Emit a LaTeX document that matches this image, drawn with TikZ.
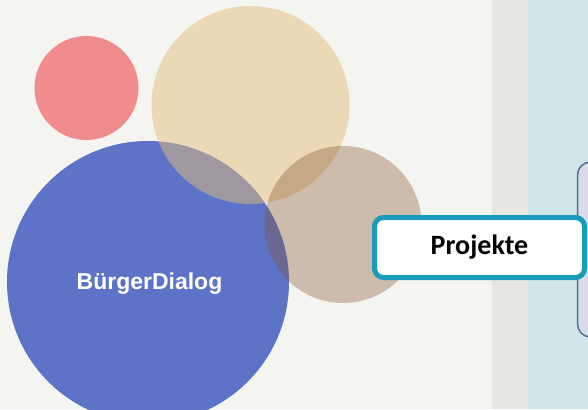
\documentclass[tikz,border=0pt]{standalone}
\usepackage{fontspec}
\setmainfont{Carlito}
\newfontfamily\dialogfont{Liberation Sans}
\definecolor{paper}{RGB}{244,244,240}
\definecolor{band}{RGB}{232,230,224}
\definecolor{lagoon}{RGB}{207,229,232}
\definecolor{rosa}{RGB}{240,140,142}
\definecolor{sand}{RGB}{228,190,124}
\definecolor{royal}{RGB}{92,115,200}
\definecolor{umber}{RGB}{133,81,46}
\definecolor{teal}{RGB}{26,155,185}
\definecolor{lilac}{RGB}{215,220,232}
\definecolor{slate}{RGB}{85,110,150}
\begin{document}
\begin{tikzpicture}[x=1pt, y=-1pt,
        bubble/.style={circle, inner sep=0pt},
        projbox/.style={draw=teal, line width=5pt, fill=white, rounded corners=9pt, inner sep=0pt}]
        \useasboundingbox (0, 0) rectangle (588, 409);
        \clip (0, 0) rectangle (588, 409);

        % background bands
        \fill[paper] (0, 0) rectangle (492, 409);
        \fill[band] (492, 0) rectangle (528, 409);
        \fill[lagoon] (528, 0) rectangle (588, 409);

        % bubbles
        \node[bubble, fill=rosa, minimum size=104pt] (rot) at (86.5, 88) {};
        \node[bubble, fill=royal, minimum size=282pt] (dialog) at (148, 282) {};
        \node[bubble, fill=sand, fill opacity=0.5, minimum size=198pt] (sand) at (250.5, 105) {};
        \node[bubble, fill=umber, fill opacity=0.35, minimum size=157pt] (braun) at (343, 224.5) {};
        \node[text=white] (dialoglabel) at (149.5, 284) {\dialogfont\bfseries\fontsize{23}{27}\selectfont BürgerDialog};

        % boxes on the right
        \draw[slate, line width=1.5pt, fill=lilac, rounded corners=13pt] (577.5, 162) rectangle (640, 337);
        \node[projbox, minimum width=210pt, minimum height=60pt] (projekte) at (479.5, 247.5) {\bfseries\fontsize{28}{32}\selectfont Projekte};
\end{tikzpicture}
\end{document}
